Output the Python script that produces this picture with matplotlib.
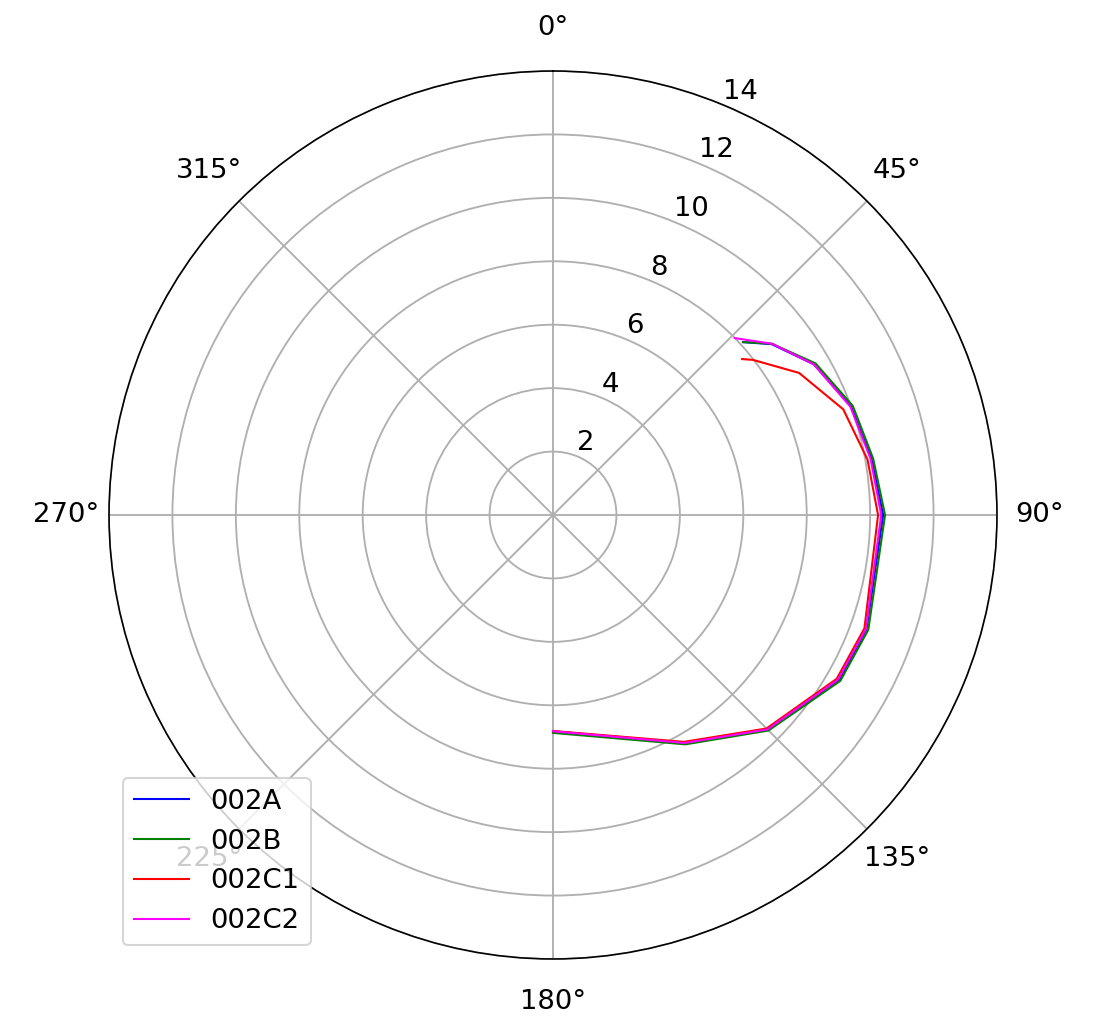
import numpy as np
import matplotlib
matplotlib.use("Agg")
import matplotlib.pyplot as plt

# angles in degrees, radii
theta_A = [47.7, 52, 60, 70, 80, 90, 110, 120, 135, 150, 180]
r_A = [8.1, 8.75, 9.5, 10.0, 10.2, 10.41, 10.52, 10.42, 9.57, 8.3, 6.82]
theta_B = [47.7, 52, 60, 70, 80, 90, 110, 120, 135, 150, 180]
r_B = [8.1, 8.77, 9.56, 10.06, 10.25, 10.47, 10.58, 10.46, 9.61, 8.35, 6.87]
theta_C1 = [50.5, 52.2, 60, 70, 80, 90, 110, 120, 135, 150, 180]
r_C1 = [7.73, 7.98, 8.96, 9.74, 10.07, 10.25, 10.45, 10.33, 9.52, 8.26, 6.81]
theta_C2 = [45.8, 52, 60, 70, 80, 90, 110, 120, 135, 150, 180]
r_C2 = [8.0, 8.77, 9.5, 9.98, 10.17, 10.35, 10.5, 10.38, 9.56, 8.3, 6.82]

series = [("002A", theta_A, r_A, "blue"),
          ("002B", theta_B, r_B, "green"),
          ("002C1", theta_C1, r_C1, "red"),
          ("002C2", theta_C2, r_C2, "magenta")]

plt.rcParams['font.size'] = 13.2
fig = plt.figure(figsize=(1100/150, 1018/150), dpi=150)
ax = fig.add_axes([109/1100, 59/1018, 888/1100, 888/1018], projection='polar')
ax.set_theta_zero_location('N')
ax.set_theta_direction(-1)
for name, th, r, c in series:
    ax.plot(np.deg2rad(th), r, color=c, label=name, linewidth=1.0)
ax.set_rlim(0, 14)
ax.set_rticks([2, 4, 6, 8, 10, 12, 14])
ax.tick_params(axis='x', pad=10)
ax.grid(True, color='#b0b0b0', linewidth=0.9)
ax.legend(loc='lower left')
fig.savefig("out.png", dpi=150)
